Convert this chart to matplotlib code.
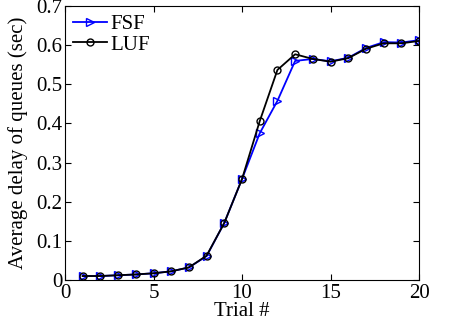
import matplotlib
matplotlib.use("Agg")
import matplotlib.pyplot as plt

trials = list(range(1, 21))
fsf = [0.010, 0.010, 0.012, 0.014, 0.017, 0.022, 0.032, 0.061, 0.146, 0.258,
       0.375, 0.458, 0.560, 0.565, 0.559, 0.568, 0.593, 0.608, 0.607, 0.613]
luf = [0.010, 0.010, 0.012, 0.014, 0.017, 0.022, 0.032, 0.062, 0.146, 0.258,
       0.406, 0.537, 0.577, 0.565, 0.558, 0.567, 0.591, 0.605, 0.605, 0.611]

plt.rcParams['font.family'] = ['Liberation Serif', 'DejaVu Serif']
plt.rcParams['font.size'] = 15

fig = plt.figure(figsize=(4.56, 3.24), dpi=100)
ax = fig.add_axes([0.1425, 0.136, 0.7765, 0.845])

ax.plot(trials, fsf, color=(0, 0, 1), marker='>', markersize=6,
        markerfacecolor='none', linewidth=1.3, label='FSF')
ax.plot(trials, luf, color='k', marker='o', markersize=5,
        markerfacecolor='none', linewidth=1.3, label='LUF')

ax.set_xlim(0, 20)
ax.set_ylim(0, 0.7)
ax.set_xticks([0, 5, 10, 15, 20])
ax.set_yticks([0, 0.1, 0.2, 0.3, 0.4, 0.5, 0.6, 0.7])
ax.set_yticklabels(['0', '0.1', '0.2', '0.3', '0.4', '0.5', '0.6', '0.7'])
ax.tick_params(direction='in', top=True, right=True, length=4)
ax.tick_params(axis='x', pad=3)
ax.tick_params(axis='y', pad=2)
ax.set_xlabel('Trial #', labelpad=-1)
ax.set_ylabel('Average delay of queues (sec)', labelpad=6)

ax.legend(loc='upper left', frameon=False, handlelength=1.6,
          handletextpad=0.2, borderaxespad=0.2, labelspacing=0.05,
          borderpad=0.2)

fig.savefig('out.png', dpi=100)
